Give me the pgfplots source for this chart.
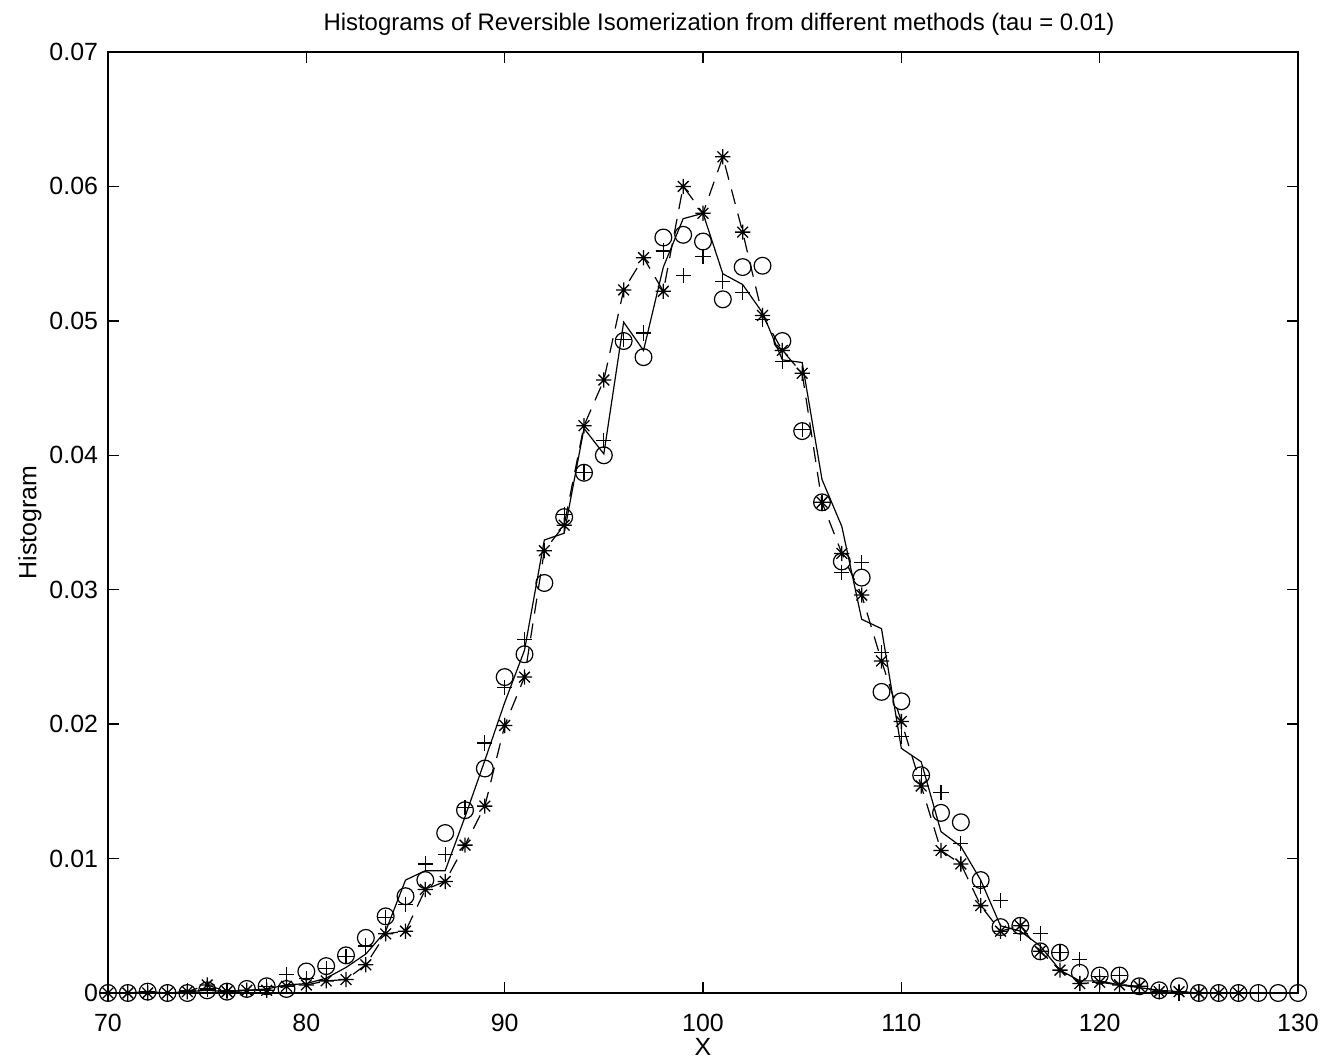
\documentclass[border=0pt]{standalone}
\usepackage{fontspec}
\setmainfont{Liberation Sans}
\usepackage{pgfplots}
\usepackage{pgfplotstable}
\pgfplotsset{compat=1.18}

\pgfdeclareplotmark{mstar}{%
  \pgfpathmoveto{\pgfqpoint{\pgfplotmarksize}{0pt}}\pgfpathlineto{\pgfqpoint{-\pgfplotmarksize}{0pt}}%
  \pgfpathmoveto{\pgfqpoint{0pt}{\pgfplotmarksize}}\pgfpathlineto{\pgfqpoint{0pt}{-\pgfplotmarksize}}%
  \pgfpathmoveto{\pgfqpoint{0.7071\pgfplotmarksize}{0.7071\pgfplotmarksize}}\pgfpathlineto{\pgfqpoint{-0.7071\pgfplotmarksize}{-0.7071\pgfplotmarksize}}%
  \pgfpathmoveto{\pgfqpoint{0.7071\pgfplotmarksize}{-0.7071\pgfplotmarksize}}\pgfpathlineto{\pgfqpoint{-0.7071\pgfplotmarksize}{0.7071\pgfplotmarksize}}%
  \pgfusepathqstroke}

\pgfplotstableread{
x   solid   star    plus    circ
70  0       0       0       0
71  0       0       0       0
72  0.0001  0       0.0001  0.0001
73  0       0       0       0
74  0.0001  0.0001  0.0002  0
75  0.0002  0.0006  0.0003  0.0002
76  0.0001  0.0001  0.0002  0.0001
77  0.0002  0.0002  0.0002  0.0003
78  0.0003  0.0002  0.0005  0.0005
79  0.0006  0.0005  0.0014  0.0003
80  0.0007  0.0006  0.0011  0.0016
81  0.0011  0.0009  0.0018  0.0020
82  0.0019  0.0010  0.0027  0.0028
83  0.0029  0.0021  0.0035  0.0041
84  0.0046  0.0044  0.0056  0.0057
85  0.0084  0.0046  0.0066  0.0072
86  0.0091  0.0077  0.0096  0.0084
87  0.0091  0.0083  0.0103  0.0119
88  0.0131  0.0110  0.0138  0.0136
89  0.0173  0.0139  0.0186  0.0167
90  0.0216  0.0199  0.0227  0.0235
91  0.0255  0.0235  0.0263  0.0252
92  0.0337  0.0329  0.0329  0.0305
93  0.0342  0.0348  0.0356  0.0354
94  0.0420  0.0422  0.0387  0.0387
95  0.0401  0.0456  0.0411  0.0400
96  0.0499  0.0523  0.0486  0.0485
97  0.0478  0.0547  0.0491  0.0473
98  0.0540  0.0522  0.0552  0.0562
99  0.0576  0.0600  0.0534  0.0564
100 0.0580  0.0580  0.0548  0.0559
101 0.0535  0.0622  0.0529  0.0516
102 0.0527  0.0566  0.0521  0.0540
103 0.0506  0.0504  0.0501  0.0541
104 0.0471  0.0478  0.0470  0.0485
105 0.0469  0.0461  0.0419  0.0418
106 0.0382  0.0365  0.0365  0.0365
107 0.0347  0.0327  0.0313  0.0321
108 0.0278  0.0296  0.0320  0.0309
109 0.0271  0.0247  0.0253  0.0224
110 0.0182  0.0202  0.0191  0.0217
111 0.0172  0.0154  0.0162  0.0162
112 0.0120  0.0106  0.0149  0.0134
113 0.0109  0.0096  0.0111  0.0127
114 0.0084  0.0065  0.0079  0.0084
115 0.0050  0.0046  0.0069  0.0049
116 0.0046  0.0050  0.0044  0.0050
117 0.0035  0.0031  0.0044  0.0031
118 0.0017  0.0017  0.0030  0.0030
119 0.0009  0.0007  0.0025  0.0015
120 0.0009  0.0008  0.0012  0.0013
121 0.0006  0.0006  0.0013  0.0013
122 0.0004  0.0005  0.0005  0.0005
123 0.0002  0.0001  0.0001  0.0002
124 0.0001  0.0001  0       0.0005
125 0       0       0       0
126 0       0       0       0
127 0       0       0       0
128 0       nan     0       0
129 0       nan     nan     0
130 0       nan     nan     0
}\data

\begin{document}
\begin{tikzpicture}
\begin{axis}[
  scale only axis,
  width=595bp, height=470.5bp,
  xmin=70, xmax=130, ymin=0, ymax=0.07,
  xtick={70,80,90,100,110,120,130},
  ytick={0,0.01,0.02,0.03,0.04,0.05,0.06,0.07},
  yticklabels={0,0.01,0.02,0.03,0.04,0.05,0.06,0.07},
  scaled y ticks=false,
  /pgf/number format/assume math mode=true,
  tick align=inside,
  major tick length=5.5bp,
  axis line style={line width=0.7bp},
  every tick/.style={line width=0.7bp, black},
  tick label style={font=\fontsize{12.5}{14}\selectfont},
  xticklabel style={yshift=-7bp},
  yticklabel style={xshift=-1.5bp},
  title={Histograms of Reversible Isomerization from different methods (tau = 0.01)},
  title style={font=\fontsize{12}{14}\selectfont, at={(rel axis cs:0.5,1)}, anchor=center, yshift=8bp, xshift=8bp},
  xlabel={X},
  xlabel style={font=\fontsize{12.5}{14}\selectfont, at={(rel axis cs:0.5,0)}, anchor=center, yshift=-27bp},
  ylabel={Histogram},
  ylabel style={font=\fontsize{12.5}{14}\selectfont, at={(rel axis cs:0,0.5)}, anchor=center, yshift=39bp},
  clip=false,
]
\addplot[black, line width=0.6bp, no markers] table[x=x, y=solid] {\data};
\addplot[black, line width=0.6bp, dash pattern=on 7.5bp off 5bp, mark=mstar, mark size=3.8bp, mark options={solid, line width=0.65bp}] table[x=x, y=star] {\data};
\addplot[black, only marks, mark=+, mark size=3.8bp, mark options={line width=0.6bp}] table[x=x, y=plus] {\data};
\addplot[black, only marks, mark=o, mark size=4.2bp, mark options={line width=0.6bp}] table[x=x, y=circ] {\data};
\coordinate (bl) at (rel axis cs:0,0);
\coordinate (tr) at (rel axis cs:1,1);
\end{axis}
\pgfresetboundingbox
\path[use as bounding box] ([xshift=-54bp,yshift=-33bp]bl) rectangle ([xshift=13.5bp,yshift=26bp]tr);
\end{tikzpicture}
\end{document}
